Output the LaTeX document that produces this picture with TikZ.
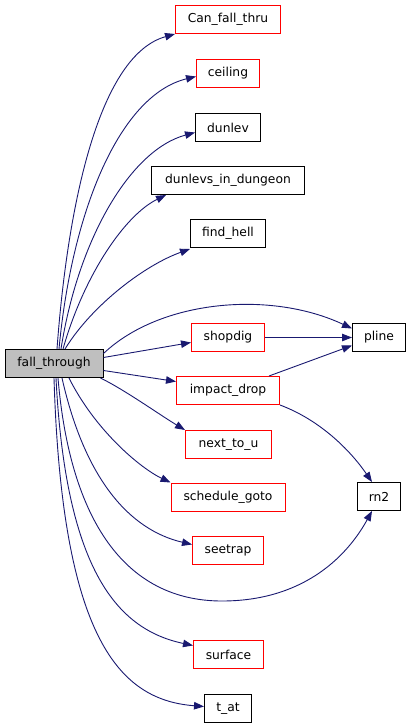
\documentclass[tikz,border=0pt]{standalone}
\usepackage{fontspec}
\setmainfont{DejaVu Sans}
\usetikzlibrary{arrows.meta}
\definecolor{edgeblue}{HTML}{191970}
\definecolor{nodegray}{HTML}{BFBFBF}
\definecolor{borderred}{HTML}{FF0000}
\begin{document}
\begin{tikzpicture}[x=1pt,y=-1pt,
  box/.style={draw=black,line width=1pt,minimum height=28pt,inner sep=0pt,font=\fontsize{12.3}{14}\selectfont,fill=white},
  redbox/.style={box,draw=borderred},
  edge/.style={draw=edgeblue,line width=0.9pt,-{Triangle[length=10pt,width=7.5pt]}}]
\useasboundingbox (0,0) rectangle (411,728);
\node[box,fill=nodegray,minimum width=98pt] (ft) at (54,363.5) {fall\_through};
\node[redbox,minimum width=105pt] (can) at (228,19.5) {Can\_fall\_thru};
\node[redbox,minimum width=63pt] (ceil) at (228,73.5) {ceiling};
\node[box,minimum width=65pt] (dunlev) at (228,127.5) {dunlev};
\node[box,minimum width=153pt] (dlid) at (228,180.5) {dunlevs\_in\_dungeon};
\node[box,minimum width=75pt] (hell) at (228,233.5) {find\_hell};
\node[box,minimum width=53pt] (pline) at (379,337.5) {pline};
\node[redbox,minimum width=73pt] (shop) at (228,337.5) {shopdig};
\node[redbox,minimum width=103pt] (impact) at (228,390.5) {impact\_drop};
\node[redbox,minimum width=86pt] (next) at (228.5,444.5) {next\_to\_u};
\node[redbox,minimum width=114pt] (schedgoto) at (228,497) {schedule\_goto};
\node[redbox,minimum width=71pt] (seetrap) at (228,550.5) {seetrap};
\node[box,minimum width=43pt] (rn2) at (379,496.5) {rn2};
\node[redbox,minimum width=70pt] (surface) at (228.5,654.5) {surface};
\node[box,minimum width=47pt] (tat) at (228,708.5) {t\_at};
\coordinate (low) at (222,601);

\draw[edge] ([xshift=3pt]ft.north) .. controls (68,200) and (100,55) .. (can.south west);
\draw[edge] ([xshift=5pt]ft.north) .. controls (72,210) and (120,95) .. ([yshift=-3pt]ceil.west);
\draw[edge] ([xshift=7pt]ft.north) .. controls (78,240) and (130,150) .. ([yshift=-5pt]dunlev.west);
\draw[edge] ([xshift=9pt]ft.north) .. controls (84,275) and (125,215) .. ([xshift=-62pt]dlid.south);
\draw[edge] ([xshift=11pt]ft.north) .. controls (92,305) and (145,265) .. ([yshift=-1pt]hell.south west);
\draw[edge] ([yshift=10pt]ft.east) .. controls (160,300) and (270,290) .. ([yshift=9pt]pline.west);
\draw[edge] ([yshift=6pt]ft.east) -- ([yshift=-5pt]shop.west);
\draw[edge] (shop) -- (pline);
\draw[edge] ([yshift=-7pt]ft.east) -- ([yshift=9pt]impact.west);
\draw[edge] ([xshift=-11pt]impact.north east) -- ([yshift=-8pt]pline.west);
\draw[edge] (impact.south east) .. controls (320,420) and (350,450) .. ([xshift=-7pt]rn2.north);
\draw[edge] ([xshift=-3pt]ft.south east) .. controls (125,390) and (160,415) .. (next.north west);
\draw[edge] ([xshift=15pt]ft.south) .. controls (95,430) and (140,468) .. (schedgoto.north west);
\draw[edge] ([xshift=8pt]ft.south) .. controls (85,480) and (130,530) .. ([yshift=6pt]seetrap.west);
\draw[edge] ([xshift=4pt]ft.south) .. controls (70,520) and (125,601) .. (low) .. controls (300,601) and (345,560) .. ([xshift=-7pt]rn2.south);
\draw[edge] ([xshift=2pt]ft.south) .. controls (66,575) and (120,630) .. ([yshift=9pt]surface.west);
\draw[edge] ([xshift=0pt]ft.south) .. controls (62,640) and (120,700) .. ([yshift=2pt]tat.west);
\end{tikzpicture}
\end{document}
